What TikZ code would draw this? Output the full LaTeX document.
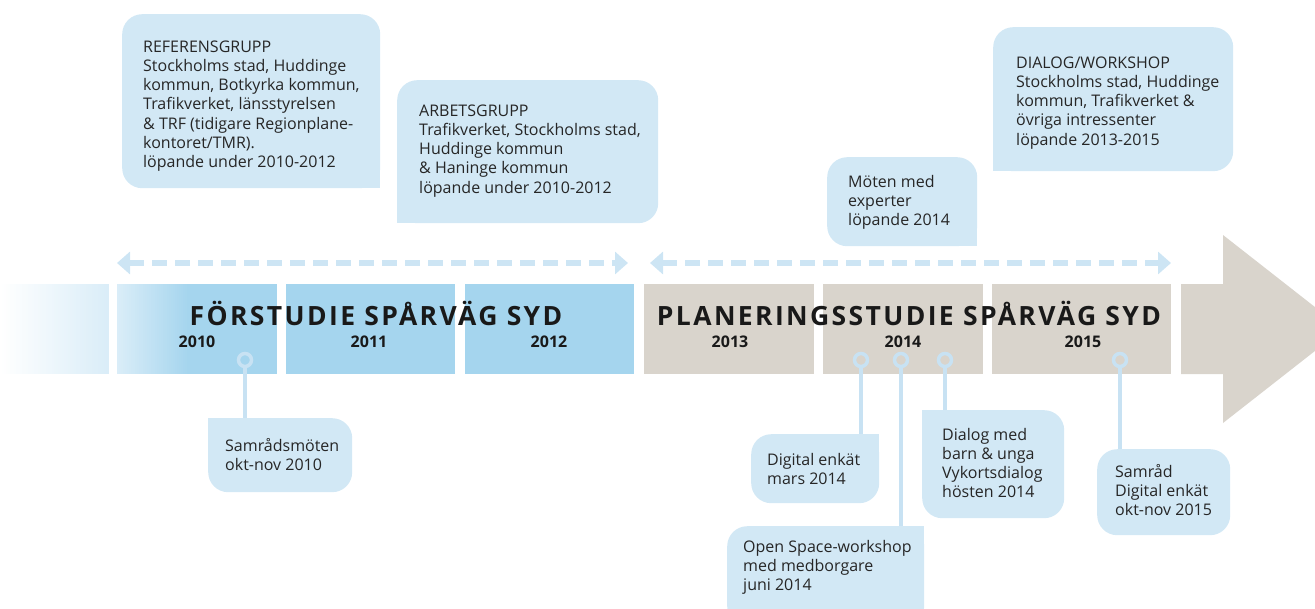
\documentclass[tikz,border=0pt]{standalone}
\usepackage{fontspec}
\setmainfont{Open Sans}
\usetikzlibrary{arrows.meta}
\definecolor{boxfill}{RGB}{210,232,245}
\definecolor{barblue}{RGB}{165,213,238}
\definecolor{barbeige}{RGB}{217,212,204}
\definecolor{paleblue}{RGB}{218,237,248}
\definecolor{dashcol}{RGB}{205,229,244}
\definecolor{markcol}{RGB}{200,226,243}
\definecolor{txt}{RGB}{38,38,38}
\definecolor{ttl}{RGB}{25,25,25}
\newcommand\lines[1]{\begin{tabular}[t]{@{}l@{}}#1\end{tabular}}
\begin{document}
\begin{tikzpicture}[x=1pt,y=-1pt,
 boxshape/.style={rectangle, fill=boxfill, rounded corners=20pt, inner sep=0pt, anchor=north west},
 bodytext/.style={anchor=base west, inner sep=0pt, text=txt, font=\fontsize{16}{19.3}\selectfont},
 bar/.style={rectangle, inner sep=0pt, minimum height=90, anchor=north west},
 ttlstyle/.style={anchor=base, inner sep=0pt, text=ttl, font=\fontsize{26.5}{30}\selectfont\bfseries\addfontfeatures{LetterSpace=9}},
 yearstyle/.style={anchor=base, inner sep=0pt, text=ttl, font=\fontsize{16}{19}\selectfont\bfseries},
 marker/.style={circle, draw=markcol, line width=3.5pt, minimum size=13pt, inner sep=0pt},
 conn/.style={draw=markcol, line width=3.5pt},
 dasharr/.style={draw=dashcol, line width=5.5pt, dash pattern=on 15pt off 8pt, {Triangle[width=22pt,length=13pt]}-{Triangle[width=22pt,length=13pt]}}
]
\useasboundingbox (0,0) rectangle (1315,608);
\clip (0,0) rectangle (1315,608);

% timeline bars
\foreach \i in {0,...,53} {
  \pgfmathsetmacro\p{100*\i/53}
  \fill[paleblue!\p!white] (2*\i,284) rectangle (2*\i+2.6,374);
}
\node[bar, fill=barblue, minimum width=160] (b2010) at (117,284) {};
\foreach \i in {0,...,35} {
  \pgfmathsetmacro\p{100*\i/35}
  \fill[barblue!\p!paleblue] (117+2*\i,284) rectangle (119.6+2*\i,374);
}
\node[bar, fill=barblue, minimum width=169] (b2011) at (286,284) {};
\node[bar, fill=barblue, minimum width=169] (b2012) at (465,284) {};
\node[bar, fill=barbeige, minimum width=170] (b2013) at (644,284) {};
\node[bar, fill=barbeige, minimum width=160] (b2014) at (823,284) {};
\node[bar, fill=barbeige, minimum width=179] (b2015) at (992,284) {};
\fill[barbeige] (1181,284) -- (1223,284) -- (1223,235) -- (1343,329) -- (1223,423) -- (1223,374) -- (1181,374) -- cycle;

% dashed arrows
\coordinate (d1a) at (117,263);
\coordinate (d1b) at (628,263);
\coordinate (d2a) at (650,263);
\coordinate (d2b) at (1171,263);
\draw[dasharr] (d1a) -- (d1b);
\draw[dasharr] (d2a) -- (d2b);

% titles and years
\node[ttlstyle] (t1) at (376,325) {FÖRSTUDIE SPÅRVÄG SYD};
\node[ttlstyle] (t2) at (909,325) {PLANERINGSSTUDIE SPÅRVÄG SYD};
\node[yearstyle] (y2010) at (197,347) {2010};
\node[yearstyle] (y2011) at (369,347) {2011};
\node[yearstyle] (y2012) at (549,347) {2012};
\node[yearstyle] (y2013) at (730,347) {2013};
\node[yearstyle] (y2014) at (903,347) {2014};
\node[yearstyle] (y2015) at (1083,347) {2015};

% upper boxes
\node[boxshape, minimum width=258, minimum height=174] (ref) at (122,14) {};
\fill[boxfill] (ref.south east) rectangle ++(-20,-20);
\node[bodytext] (reft) at (143,52) {\lines{REFERENSGRUPP\\Stockholms stad, Huddinge\\kommun, Botkyrka kommun,\\Trafikverket, länsstyrelsen\\\& TRF (tidigare Regionplane-\\kontoret/TMR).\\löpande under 2010-2012}};

\node[boxshape, minimum width=261, minimum height=143] (arb) at (397,80) {};
\fill[boxfill] (arb.south west) rectangle ++(20,-20);
\node[bodytext] (arbt) at (419,116) {\lines{ARBETSGRUPP\\Trafikverket, Stockholms stad,\\Huddinge kommun\\\& Haninge kommun\\löpande under 2010-2012}};

\node[boxshape, minimum width=150, minimum height=89] (mot) at (827,157) {};
\fill[boxfill] (mot.south east) rectangle ++(-20,-20);
\node[bodytext] (mott) at (848,187) {\lines{Möten med\\experter\\löpande 2014}};

\node[boxshape, minimum width=240, minimum height=144] (dia) at (993,27) {};
\fill[boxfill] (dia.south west) rectangle ++(20,-20);
\node[bodytext] (diat) at (1016,68) {\lines{DIALOG/WORKSHOP\\Stockholms stad, Huddinge\\kommun, Trafikverket \&\\övriga intressenter\\löpande 2013-2015}};

% lower boxes
\node[boxshape, minimum width=144, minimum height=74] (sam1) at (208,418) {};
\fill[boxfill] (sam1.north west) rectangle ++(20,20);
\node[bodytext] (sam1t) at (225,451) {\lines{Samrådsmöten\\okt-nov 2010}};

\node[boxshape, minimum width=128, minimum height=69] (dig) at (751,434) {};
\fill[boxfill] (dig.north east) rectangle ++(-20,20);
\node[bodytext] (digt) at (767,465) {\lines{Digital enkät\\mars 2014}};

\node[boxshape, minimum width=197, minimum height=100] (open) at (727,526) {};
\fill[boxfill] (open.north east) rectangle ++(-20,20);
\node[bodytext] (opent) at (743,552) {\lines{Open Space-workshop\\med medborgare\\juni 2014}};

\node[boxshape, minimum width=142, minimum height=108] (barn) at (922,410) {};
\fill[boxfill] (barn.north west) rectangle ++(20,20);
\node[bodytext] (barnt) at (942,440) {\lines{Dialog med\\barn \& unga\\Vykortsdialog\\hösten 2014}};

\node[boxshape, minimum width=133, minimum height=86] (samr) at (1097,449) {};
\node[bodytext] (samrt) at (1115,477) {\lines{Samråd\\Digital enkät\\okt-nov 2015}};

% markers and connectors
\node[marker] (m0) at (245,360) {};
\node[marker] (m1) at (861,360) {};
\node[marker] (m2) at (901,360) {};
\node[marker] (m3) at (945,360) {};
\node[marker] (m4) at (1120,360) {};
\draw[conn] (m0.south) -- (m0.south |- sam1.north);
\draw[conn] (m1.south) -- (m1.south |- dig.north);
\draw[conn] (m2.south) -- (m2.south |- open.north);
\draw[conn] (m3.south) -- (m3.south |- barn.north);
\draw[conn] (m4.south) -- (m4.south |- samr.north);
\end{tikzpicture}
\end{document}
